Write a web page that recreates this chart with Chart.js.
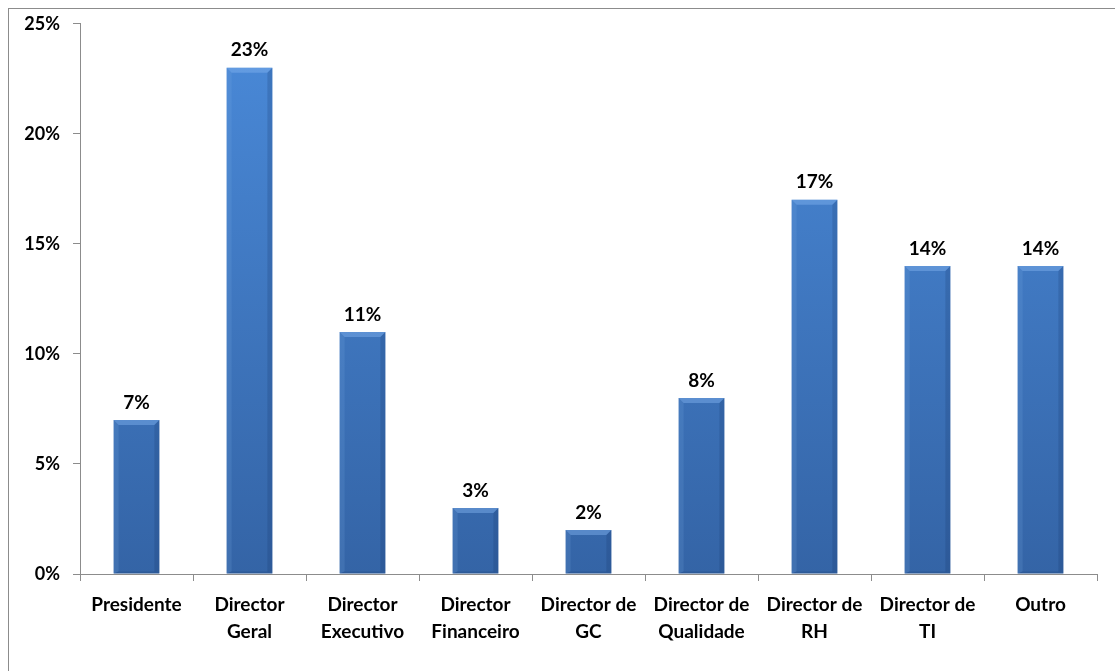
<!DOCTYPE html>
<html>
<head>
<meta charset="utf-8">
<script src="https://cdn.jsdelivr.net/npm/chart.js@4/dist/chart.umd.min.js"></script>
<style>
  html, body { margin: 0; padding: 0; background: #fff; overflow: hidden; }
  #wrap { position: relative; width: 1115px; height: 671px; }
  #frame { position: absolute; left: 8px; top: 8px; width: 1200px; height: 800px; border: 1px solid #8c8c8c; box-sizing: border-box; }
  canvas { position: absolute; left: 0; top: 0; }
</style>
</head>
<body>
<div id="wrap">
  <div id="frame"></div>
  <canvas id="c" width="1115" height="671"></canvas>
</div>
<script>
// Cargos dos respondentes (percentagem)
const categories = [
  ['Presidente'],
  ['Director', 'Geral'],
  ['Director', 'Executivo'],
  ['Director', 'Financeiro'],
  ['Director de', 'GC'],
  ['Director de', 'Qualidade'],
  ['Director de', 'RH'],
  ['Director de', 'TI'],
  ['Outro']
];
const values = [7, 23, 11, 3, 2, 8, 17, 14, 14];
const yTicks = [0, 5, 10, 15, 20, 25];

const FONT = 'Lato, "Open Sans", sans-serif';

// Soft bevel shading on each bar: lighter top cap and left edge, darker right edge
const bevelPlugin = {
  id: 'bevel',
  afterDatasetsDraw(chart) {
    const ctx = chart.ctx;
    chart.getDatasetMeta(0).data.forEach(bar => {
      const w = bar.width;
      const l = bar.x - w / 2, r = bar.x + w / 2;
      const t = bar.y, b = bar.base;
      const cap = 5;
      ctx.save();
      // top cap
      ctx.beginPath();
      ctx.moveTo(l, t); ctx.lineTo(r, t); ctx.lineTo(r - cap, t + cap); ctx.lineTo(l + cap, t + cap); ctx.closePath();
      ctx.fillStyle = 'rgba(130,180,240,0.45)';
      ctx.fill();
      // left edge
      ctx.beginPath();
      ctx.moveTo(l, t); ctx.lineTo(l + cap, t + cap); ctx.lineTo(l + cap, b - 2); ctx.lineTo(l, b); ctx.closePath();
      ctx.fillStyle = 'rgba(120,170,230,0.18)';
      ctx.fill();
      // right edge
      ctx.beginPath();
      ctx.moveTo(r, t); ctx.lineTo(r - cap, t + cap); ctx.lineTo(r - cap, b - 2); ctx.lineTo(r, b); ctx.closePath();
      ctx.fillStyle = 'rgba(20,50,100,0.2)';
      ctx.fill();
      // bottom edge
      ctx.beginPath();
      ctx.moveTo(l, b); ctx.lineTo(r, b); ctx.lineTo(r - cap, b - 2); ctx.lineTo(l + cap, b - 2); ctx.closePath();
      ctx.fillStyle = 'rgba(20,50,100,0.2)';
      ctx.fill();
      ctx.restore();
    });
  }
};

// Percentage label above each bar
const valueLabels = {
  id: 'valueLabels',
  afterDatasetsDraw(chart) {
    const ctx = chart.ctx;
    const ds = chart.data.datasets[0];
    ctx.save();
    ctx.font = 'bold 19px ' + FONT;
    ctx.fillStyle = '#000';
    ctx.textAlign = 'center';
    ctx.textBaseline = 'bottom';
    chart.getDatasetMeta(0).data.forEach((bar, i) => {
      ctx.fillText(ds.data[i] + '%', bar.x, bar.y - 8);
    });
    ctx.restore();
  }
};

const ctx = document.getElementById('c').getContext('2d');
new Chart(ctx, {
  type: 'bar',
  data: {
    labels: categories,
    datasets: [{
      data: values,
      backgroundColor(c) {
        const area = c.chart.chartArea;
        if (!area) return '#3c78c6';
        const g = c.chart.ctx.createLinearGradient(0, area.top, 0, area.bottom);
        g.addColorStop(0, '#4a8ad9');
        g.addColorStop(1, '#3464a6');
        return g;
      },
      borderWidth: 0,
      categoryPercentage: 1,
      barPercentage: 0.405
    }]
  },
  options: {
    responsive: false,
    animation: false,
    events: [],
    layout: { padding: { top: 12, right: 18, bottom: 0, left: 0 } },
    plugins: { legend: { display: false }, tooltip: { enabled: false } },
    scales: {
      x: {
        grid: { display: true, drawOnChartArea: false, drawTicks: true, tickLength: 7, color: '#8c8c8c', offset: true },
        border: { color: '#8c8c8c', width: 1 },
        ticks: { color: '#000', font: { family: FONT, size: 19, weight: 'bold', lineHeight: 1.45 }, padding: 10, maxRotation: 0, autoSkip: false },
        afterFit(s) { s.height = 97; }
      },
      y: {
        min: 0, max: 25,
        afterBuildTicks(s) { s.ticks = yTicks.map(v => ({ value: v })); },
        grid: { display: true, drawOnChartArea: false, drawTicks: true, tickLength: 7, color: '#8c8c8c' },
        border: { color: '#8c8c8c', width: 1 },
        ticks: { color: '#000', font: { family: FONT, size: 18, weight: 'bold' }, padding: 13, callback: v => v + '%' },
        afterFit(s) { s.width = 80; }
      }
    }
  },
  plugins: [bevelPlugin, valueLabels]
});
</script>
</body>
</html>
